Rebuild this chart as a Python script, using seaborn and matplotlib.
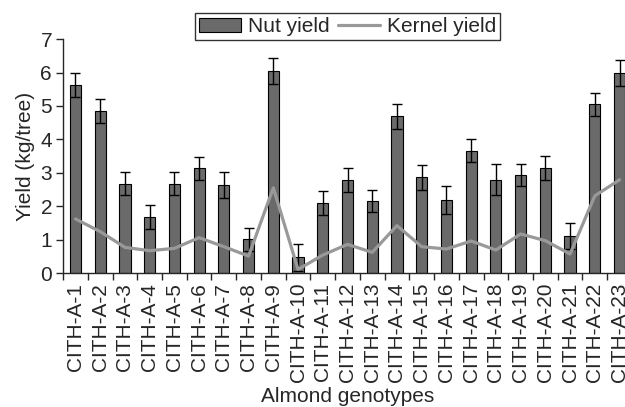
import numpy as np
import pandas as pd
import matplotlib
matplotlib.use("Agg")
import matplotlib.pyplot as plt
import seaborn as sns
from matplotlib.ticker import FixedLocator

# ---------------------------
# DATA
# ---------------------------
genotypes = ["CITH-A-%d" % i for i in range(1, 24)]
nut_yield = [5.63, 4.85, 2.67, 1.67, 2.67, 3.13, 2.63, 1.01, 6.05, 0.47, 2.10, 2.78,
             2.16, 4.69, 2.87, 2.20, 3.66, 2.79, 2.94, 3.14, 1.12, 5.05, 5.98]
nut_err = [0.37, 0.35, 0.34, 0.36, 0.34, 0.34, 0.38, 0.35, 0.39, 0.40, 0.36, 0.35,
           0.33, 0.37, 0.37, 0.42, 0.34, 0.46, 0.33, 0.36, 0.39, 0.35, 0.38]
kernel_yield = [1.62, 1.24, 0.77, 0.67, 0.74, 1.06, 0.79, 0.51, 2.55, 0.11, 0.54, 0.86,
                0.62, 1.42, 0.79, 0.72, 0.96, 0.69, 1.17, 0.97, 0.57, 2.31, 2.79]

df = pd.DataFrame({"genotype": genotypes, "nut": nut_yield,
                   "err": nut_err, "kernel": kernel_yield})

# ---------------------------
# STYLE
# ---------------------------
sns.set_style("ticks")
plt.rcParams['font.family'] = ['Liberation Sans', 'DejaVu Sans']

fig = plt.figure(figsize=(6.25, 4.07), dpi=100)
ax = fig.add_axes([0.101, 0.329, 0.910, 0.575])

# ---------------------------
# BARS + LINE
# ---------------------------
sns.barplot(data=df, x="genotype", y="nut", color="#6a6a6a", saturation=1,
            width=0.45, edgecolor="black", linewidth=0.8, ax=ax,
            label="Nut yield", errorbar=None)
x = np.arange(len(genotypes))
ax.errorbar(x, df["nut"], yerr=df["err"], fmt="none", ecolor="black",
            elinewidth=1.0, capsize=3.5, capthick=1.0)
sns.lineplot(x=x, y=df["kernel"], color="#999999", linewidth=2.3, ax=ax,
             label="Kernel yield")

# ---------------------------
# AXES
# ---------------------------
ax.set_xlim(-0.5, len(genotypes) - 0.5)
ax.set_ylim(0, 7)
ax.set_yticks(range(0, 8))
ax.tick_params(axis="y", labelsize=15, length=5, width=1, pad=3)
ax.set_xticks(x)
ax.set_xticklabels(genotypes, rotation=90, fontsize=15)
ax.tick_params(axis="x", which="major", length=0, pad=7)
ax.xaxis.set_minor_locator(FixedLocator(np.arange(-0.5, len(genotypes), 1)))
ax.tick_params(axis="x", which="minor", length=5, width=1)
ax.set_xlabel("Almond genotypes", fontsize=15, labelpad=3)
ax.set_ylabel("Yield (kg/tree)", fontsize=15, labelpad=4)
sns.despine(ax=ax)
ax.spines["left"].set_linewidth(1)
ax.spines["bottom"].set_linewidth(1)

handles, labels = ax.get_legend_handles_labels()
order = [labels.index("Nut yield"), labels.index("Kernel yield")]
leg = ax.legend([handles[i] for i in order], [labels[i] for i in order],
                loc="lower center", bbox_to_anchor=(0.5, 0.985), ncol=2,
                fontsize=15, frameon=True, fancybox=False, edgecolor="black",
                borderpad=0.2, handlelength=2.0, columnspacing=0.4,
                handletextpad=0.35, borderaxespad=0.1)
leg.get_frame().set_linewidth(1)

fig.savefig("out.png", dpi=100)
